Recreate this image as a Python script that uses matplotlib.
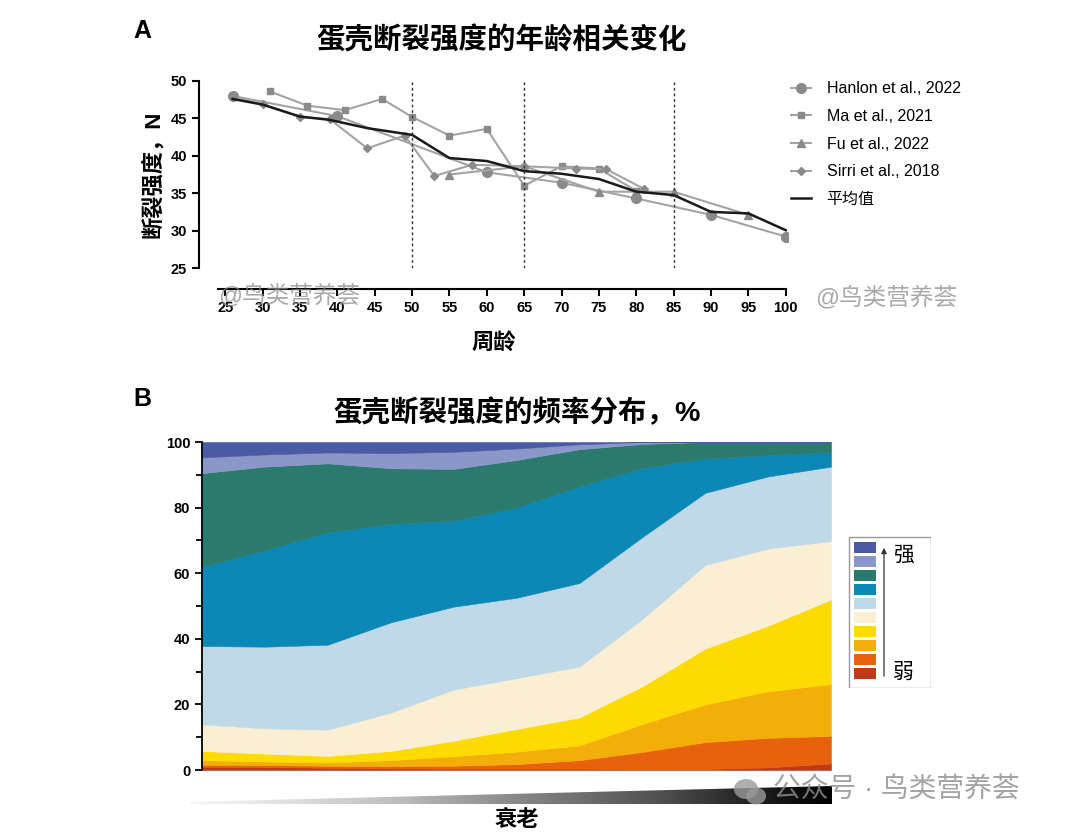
import numpy as np
import matplotlib.pyplot as plt
from matplotlib.patches import Rectangle, Polygon, Ellipse

plt.rcParams['font.family'] = ['Liberation Sans', 'Noto Sans CJK SC', 'DejaVu Sans']

W, H = 1080, 832

# ---------- panel A: breaking strength (N) by age (weeks) ----------
hanlon_age = [26, 40, 60, 70, 80, 90, 100]
hanlon_val = [48.0, 45.3, 37.8, 36.4, 34.3, 32.1, 29.2]
ma_age = [31, 36, 41, 46, 50, 55, 60, 65, 70, 75, 80]
ma_val = [48.6, 46.7, 46.1, 47.6, 45.2, 42.7, 43.6, 36.0, 38.6, 38.3, 35.3]
fu_age = [55, 65, 75, 85, 95]
fu_val = [37.5, 38.6, 35.2, 35.2, 32.1]
sirri_age = [26, 30, 35, 39, 44, 49, 53, 58, 65, 72, 76, 81]
sirri_val = [47.8, 46.9, 45.2, 44.9, 41.0, 42.7, 37.3, 38.8, 38.6, 38.3, 38.2, 35.6]
mean_age = [26, 30, 35, 39, 44, 50, 55, 60, 65, 70, 75, 80, 85, 90, 95, 100]
mean_val = [47.6, 46.85, 45.25, 44.8, 43.7, 42.8, 39.7, 39.3, 37.95, 37.6, 36.9,
            35.2, 34.75, 32.5, 32.3, 30.05]
phase_ages = [50, 65, 85]
age_ticks = list(range(25, 101, 5))

# ---------- panel B: cumulative share (%) of each strength class ----------
stage = list(range(11))
top_darkred = [1.0, 0.9, 0.7, 0.5, 0.4, 0.4, 0.4, 0.3, 0.3, 0.8, 2.0]
top_redorange = [1.6, 1.5, 1.3, 1.2, 1.3, 1.8, 3.0, 5.5, 8.5, 9.8, 10.4]
top_orange = [3.0, 2.6, 2.3, 3.0, 4.2, 5.6, 7.5, 14.0, 20.0, 24.0, 26.2]
top_yellow = [5.8, 5.0, 4.3, 5.8, 8.9, 12.5, 16.0, 25.5, 37.0, 44.0, 52.0]
top_cream = [13.9, 12.7, 12.3, 17.5, 24.5, 28.0, 31.5, 46.0, 62.5, 67.5, 69.8]
top_lightblue = [37.8, 37.6, 38.2, 45.0, 49.8, 52.5, 57.0, 71.0, 84.5, 89.5, 92.5]
top_blue = [62.0, 67.0, 72.5, 75.0, 76.0, 80.0, 86.5, 92.0, 95.0, 96.0, 97.0]
top_teal = [90.5, 92.5, 93.5, 92.0, 91.8, 94.5, 97.8, 99.4, 100, 100, 100]
top_lavender = [95.3, 96.2, 96.8, 96.6, 97.0, 98.0, 99.3, 100, 100, 100, 100]
top_darkblue = [100] * 11

class_colors = ['#bd3a1c', '#e8620d', '#f4ae0a', '#fddb00', '#fbefd3',
                '#c0d9e9', '#0b88b5', '#2a7b6e', '#8c97c9', '#4a5aa4']


def px(x, y):
    return x / W, 1 - y / H


fig = plt.figure(figsize=(W / 100, H / 100), dpi=100)

# ================= panel A =================
axA = fig.add_axes([199 / W, 1 - 268 / H, (788 - 199) / W, 187 / H])
grey = '#a3a3a3'
mk = '#8a8a8a'
axA.plot(hanlon_age, hanlon_val, color=grey, lw=1.5, marker='o', ms=7,
         mfc=mk, mec=mk, label='Hanlon et al., 2022')
axA.plot(ma_age, ma_val, color=grey, lw=1.5, marker='s', ms=5,
         mfc=mk, mec=mk, label='Ma et al., 2021')
axA.plot(fu_age, fu_val, color=grey, lw=1.5, marker='^', ms=6,
         mfc=mk, mec=mk, label='Fu et al., 2022')
axA.plot(sirri_age, sirri_val, color=grey, lw=1.5, marker='D', ms=4,
         mfc=mk, mec=mk, label='Sirri et al., 2018')
axA.plot(mean_age, mean_val, color='#1a1a1a', lw=1.8, label='平均值')
for a in phase_ages:
    axA.plot([a, a], [25, 50], color='#333333', lw=1, ls=(0, (2, 2)))

axA.set_xlim(21.5, 100.3)
axA.set_ylim(25, 50)
axA.set_yticks([25, 30, 35, 40, 45, 50])
axA.set_xticks(age_ticks)
axA.spines['top'].set_visible(False)
axA.spines['right'].set_visible(False)
axA.spines['bottom'].set_position(('outward', 15))
axA.spines['bottom'].set_bounds(24, 100)
axA.spines['left'].set_linewidth(1.5)
axA.spines['bottom'].set_linewidth(1.5)
axA.tick_params(width=1.5, length=5, labelsize=10.5)
for t in axA.get_xticklabels() + axA.get_yticklabels():
    t.set_fontweight('bold')
axA.set_xlabel('周龄', fontsize=16, fontweight='bold', labelpad=14)
axA.set_ylabel('断裂强度，N', fontsize=16, fontweight='bold', labelpad=5)

fig.legend(loc='upper left', bbox_to_anchor=px(777, 67), frameon=False,
           fontsize=11.5, handlelength=1.25, labelspacing=0.79, handletextpad=0.95)

fig.text(*px(133, 31), 'A', fontsize=18, fontweight='bold', va='center')
fig.text(*px(502, 40), '蛋壳断裂强度的年龄相关变化', fontsize=20.5,
         fontweight='bold', ha='center', va='center')

# ================= panel B =================
axB = fig.add_axes([202 / W, 1 - 770 / H, 629 / W, 328 / H])
bounds = [[0] * 11, top_darkred, top_redorange, top_orange, top_yellow, top_cream,
          top_lightblue, top_blue, top_teal, top_lavender, top_darkblue]
for lo, hi, c in zip(bounds[:-1], bounds[1:], class_colors):
    axB.fill_between(stage, lo, hi, color=c, lw=0.4, ec=c)
axB.set_xlim(0, 10)
axB.set_ylim(0, 100)
axB.set_yticks([0, 20, 40, 60, 80, 100])
axB.set_yticks([10, 30, 50, 70, 90], minor=True)
axB.set_xticks([])
for s in ['top', 'right', 'bottom']:
    axB.spines[s].set_visible(False)
axB.spines['left'].set_linewidth(1.3)
axB.tick_params(axis='y', width=1.3, length=5, labelsize=10.5)
axB.tick_params(axis='y', which='minor', width=1.3, length=4)
for t in axB.get_yticklabels():
    t.set_fontweight('bold')

fig.text(*px(133, 399), 'B', fontsize=18, fontweight='bold', va='center')
fig.text(*px(517, 413), '蛋壳断裂强度的频率分布，%', fontsize=20.5,
         fontweight='bold', ha='center', va='center')

# legend box for strength classes
axL = fig.add_axes([848 / W, 1 - 688 / H, 83 / W, 152 / H])
axL.set_xlim(0, 83)
axL.set_ylim(0, 152)
axL.axis('off')
axL.add_patch(Rectangle((0.5, 0.5), 82, 151, fill=False, ec='#999999', lw=1))
for i, c in enumerate(class_colors):
    axL.add_patch(Rectangle((6, 9 + i * 14.0), 22, 10.7, color=c, lw=0))
axL.annotate('', xy=(36, 143), xytext=(36, 9),
             arrowprops=dict(arrowstyle='-|>', color='#333333', lw=0.9,
                             mutation_scale=8))
axL.text(55, 133, '强', fontsize=15, ha='center', va='center')
axL.text(55, 16, '弱', fontsize=15, ha='center', va='center')

# ageing wedge
axW = fig.add_axes([190 / W, 1 - 804 / H, 642 / W, 18 / H])
axW.axis('off')
grad = np.linspace(0.08, 1.0, 256).reshape(1, -1)
im = axW.imshow(grad, cmap='Greys', aspect='auto', extent=[0, 1, 0, 1],
                vmin=0, vmax=1)
wedge = Polygon([(0, 0), (1, 0), (1, 1), (0, 0.12)], closed=True,
                transform=axW.transAxes, fc='none', ec='none')
axW.add_patch(wedge)
im.set_clip_path(wedge)
axW.set_xlim(0, 1)
axW.set_ylim(0, 1)
fig.text(*px(517, 820), '衰老', fontsize=16, fontweight='bold',
         ha='center', va='center')

# watermarks
wm = dict(color='#8c8c8c', alpha=0.75, fontsize=17, va='center')
fig.text(*px(218, 296), '@鸟类营养荟', **wm)
fig.text(*px(815, 298), '@鸟类营养荟', **wm)
axI = fig.add_axes([730 / W, 1 - 808 / H, 40 / W, 34 / H])
axI.set_xlim(0, 40)
axI.set_ylim(0, 34)
axI.axis('off')
axI.add_patch(Ellipse((16, 19), 24, 20, color='#9a9a9a', alpha=0.8, lw=0))
axI.add_patch(Ellipse((26, 12), 20, 17, color='#9a9a9a', alpha=0.8, lw=0))
fig.text(*px(773, 791), '公众号 · 鸟类营养荟', color='#8c8c8c', alpha=0.8,
         fontsize=20, va='center')

fig.savefig('out.png', dpi=100)
